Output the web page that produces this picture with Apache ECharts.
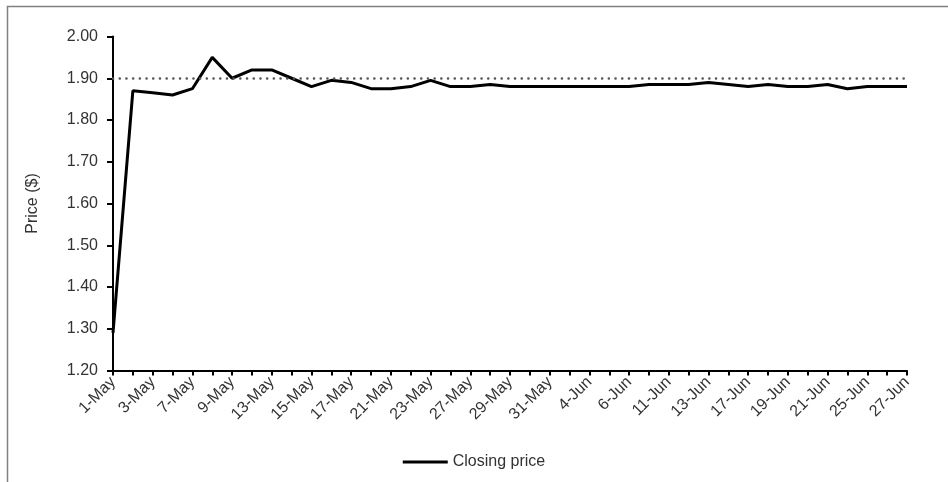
<!DOCTYPE html>
<html>
<head>
<meta charset="utf-8">
<script src="https://cdn.jsdelivr.net/npm/echarts@6/dist/echarts.min.js"></script>
<style>
  html, body { margin: 0; padding: 0; background: #fff; }
  #chart { width: 948px; height: 482px; }
</style>
</head>
<body>
<div id="chart"></div>
<script>
// Trading days, May–June
const tradingDays = [
  '1-May', '2-May', '3-May', '6-May', '7-May', '8-May', '9-May', '10-May',
  '13-May', '14-May', '15-May', '16-May', '17-May', '20-May', '21-May', '22-May',
  '23-May', '24-May', '27-May', '28-May', '29-May', '30-May', '31-May',
  '3-Jun', '4-Jun', '5-Jun', '6-Jun', '7-Jun', '11-Jun', '12-Jun', '13-Jun',
  '14-Jun', '17-Jun', '18-Jun', '19-Jun', '20-Jun', '21-Jun', '24-Jun', '25-Jun',
  '26-Jun', '27-Jun'
];

// Daily closing price ($)
const closingPrice = [
  1.29, 1.87, 1.865, 1.86, 1.875, 1.95, 1.90, 1.92,
  1.92, 1.90, 1.88, 1.895, 1.89, 1.875, 1.875, 1.88,
  1.895, 1.88, 1.88, 1.885, 1.88, 1.88, 1.88,
  1.88, 1.88, 1.88, 1.88, 1.885, 1.885, 1.885, 1.89,
  1.885, 1.88, 1.885, 1.88, 1.88, 1.885, 1.875, 1.88,
  1.88, 1.88
];

// Reference price level
const referencePrice = 1.90;

// Value axis range
const yMin = 1.2, yMax = 2.0, yStep = 0.1;

const FONT = '"Liberation Sans", Arial, sans-serif';
const TEXT = '#333333';

const chart = echarts.init(document.getElementById('chart'), null, { renderer: 'canvas' });

chart.setOption({
  animation: false,
  backgroundColor: '#fff',
  textStyle: { fontFamily: FONT, color: TEXT },
  graphic: [{
    type: 'rect',
    shape: { x: 7.5, y: 6.5, width: 1000, height: 600 },
    style: { fill: 'none', stroke: '#808080', lineWidth: 1.5 },
    silent: true,
    z: -1
  }],
  grid: { left: 113, right: 41, top: 36.5, bottom: 111.5, containLabel: false },
  legend: {
    bottom: 7,
    left: 'center',
    itemWidth: 45,
    itemHeight: 3,
    itemGap: 4,
    icon: 'rect',
    textStyle: { fontFamily: FONT, fontSize: 16, color: TEXT, padding: [0, 0, 0, 0] },
    data: ['Closing price']
  },
  xAxis: {
    type: 'category',
    data: tradingDays,
    boundaryGap: false,
    axisLine: { lineStyle: { color: '#000', width: 2 } },
    axisTick: { show: true, interval: 0, length: 5, lineStyle: { color: '#000', width: 2 } },
    axisLabel: {
      interval: 1,
      rotate: 45,
      margin: 9,
      fontFamily: FONT,
      fontSize: 16,
      color: TEXT
    },
    splitLine: { show: false }
  },
  yAxis: {
    type: 'value',
    min: yMin,
    max: yMax,
    interval: yStep,
    name: 'Price ($)',
    nameLocation: 'middle',
    nameGap: 72,
    nameRotate: 90,
    nameTextStyle: { fontFamily: FONT, fontSize: 16, color: TEXT },
    axisLine: { show: true, lineStyle: { color: '#000', width: 2 } },
    axisTick: { show: true, length: 6, lineStyle: { color: '#000', width: 2 } },
    axisLabel: {
      margin: 15,
      fontFamily: FONT,
      fontSize: 16,
      color: TEXT,
      formatter: v => v.toFixed(2)
    },
    splitLine: { show: false }
  },
  series: [{
    name: 'Closing price',
    type: 'line',
    data: closingPrice,
    symbol: 'none',
    lineStyle: { color: '#000', width: 3 },
    itemStyle: { color: '#000' },
    markLine: {
      silent: true,
      symbol: ['none', 'none'],
      label: { show: false },
      lineStyle: { color: '#555', width: 2.5, type: [0.1, 6.6], cap: 'round' },
      data: [{ yAxis: referencePrice }]
    }
  }]
});
</script>
</body>
</html>
